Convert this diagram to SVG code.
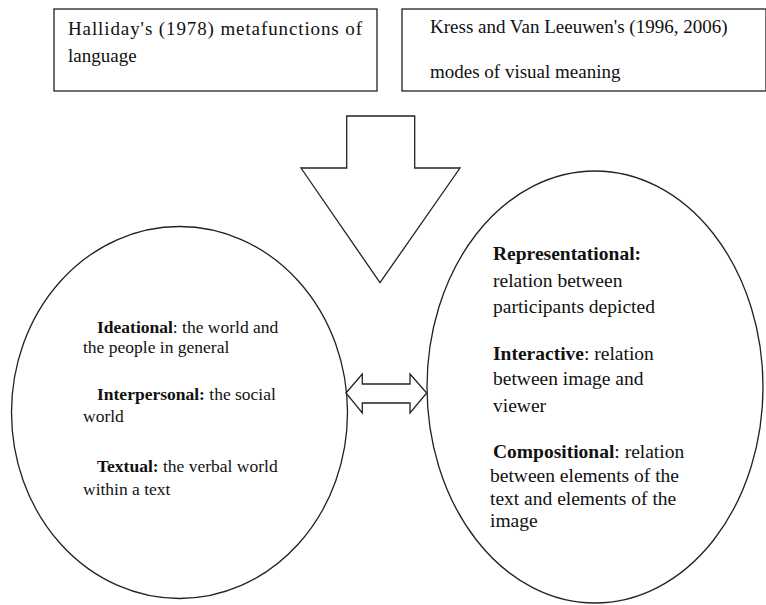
<svg xmlns="http://www.w3.org/2000/svg" width="766" height="605" viewBox="0 0 766 605">
<style>
.s{fill:#fff;stroke:#222;stroke-width:1.3}
text{font-family:"Liberation Serif","Times New Roman",serif;fill:#111}
.t{font-size:17.5px}
.h{font-size:19px}
.r{font-size:19.5px}
.b{font-weight:bold}
</style>
<rect width="766" height="605" fill="#fff"/>
<g id="box-halliday">
<rect class="s" x="54" y="9" width="323" height="82"/>
<text class="h"><tspan x="68" y="35" textLength="294" lengthAdjust="spacing">Halliday's (1978) metafunctions of</tspan><tspan x="68" y="62">language</tspan></text>
</g>
<g id="box-kress">
<rect class="s" x="402" y="9" width="364" height="82"/>
<text class="h"><tspan x="430" y="33">Kress and Van Leeuwen's (1996, 2006)</tspan><tspan x="430" y="78">modes of visual meaning</tspan></text>
</g>
<g id="ellipse-left">
<ellipse class="s" cx="179.5" cy="412.5" rx="168" ry="186"/>
<text class="t"><tspan x="97" y="333"><tspan class="b">Ideational</tspan>: the world and</tspan><tspan x="83" y="353">the people in general</tspan><tspan x="97" y="400"><tspan class="b">Interpersonal:</tspan> the social</tspan><tspan x="83" y="422">world</tspan><tspan x="97" y="472"><tspan class="b">Textual:</tspan> the verbal world</tspan><tspan x="83" y="495">within a text</tspan></text>
</g>
<g id="ellipse-right">
<ellipse class="s" cx="595" cy="387" rx="168" ry="216"/>
<text class="r"><tspan x="493" y="260" class="b">Representational:</tspan><tspan x="493" y="287">relation between</tspan><tspan x="493" y="313">participants depicted</tspan><tspan x="493" y="360"><tspan class="b">Interactive</tspan>: relation</tspan><tspan x="493" y="385">between image and</tspan><tspan x="493" y="412">viewer</tspan><tspan x="493" y="458"><tspan class="b">Compositional</tspan>: relation</tspan><tspan x="490" y="482">between elements of the</tspan><tspan x="490" y="505">text and elements of the</tspan><tspan x="490" y="527">image</tspan></text>
</g>
<g id="connectors">
<path class="s" d="M346.7,116 H414.7 V168 H460 L380,282.7 L301,168 H346.7 Z"/>
<path class="s" d="M346,393 L362.3,374 V384 H410 V374 L426.7,393 L410,413 V403 H362.3 V413 Z"/>
</g>
</svg>
